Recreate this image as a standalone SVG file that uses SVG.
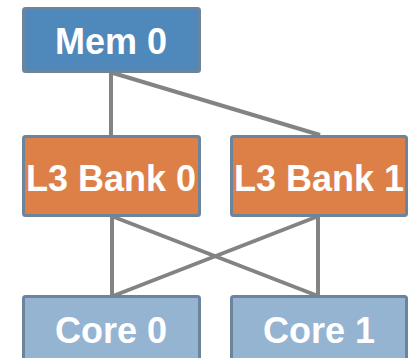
<svg xmlns="http://www.w3.org/2000/svg" width="409" height="358" viewBox="0 0 409 358">
  <style>
    .box { stroke: #6b869c; stroke-width: 3; }
    .mem { fill: #4f88bb; }
    .l3 { fill: #dd8048; }
    .core { fill: #95b4d1; }
    .label { font-family: "Liberation Sans", Arial, sans-serif; font-weight: bold; font-size: 36px; fill: #ffffff; text-anchor: middle; }
    .link { stroke: #838383; stroke-width: 4; fill: none; }
  </style>
  <g id="connectors">
    <line class="link" x1="111" y1="73" x2="111" y2="135"/>
    <line class="link" x1="113" y1="73" x2="320" y2="135"/>
    <line class="link" x1="112" y1="217" x2="112" y2="296"/>
    <line class="link" x1="114" y1="217" x2="318" y2="296"/>
    <line class="link" x1="318" y1="217" x2="318" y2="296"/>
    <line class="link" x1="316" y1="217" x2="113" y2="296"/>
  </g>
  <g id="mem0">
    <rect class="box mem" x="23.5" y="8.5" width="176" height="63" rx="2"/>
    <text class="label" x="111" y="54">Mem 0</text>
  </g>
  <g id="l3bank0">
    <rect class="box l3" x="23.5" y="136.5" width="176" height="79" rx="2"/>
    <text class="label" x="111" y="191">L3 Bank 0</text>
  </g>
  <g id="l3bank1">
    <rect class="box l3" x="231.5" y="136.5" width="175" height="79" rx="2"/>
    <text class="label" x="319" y="191">L3 Bank 1</text>
  </g>
  <g id="core0">
    <rect class="box core" x="23.5" y="296.5" width="176" height="70" rx="2"/>
    <text class="label" x="111" y="343">Core 0</text>
  </g>
  <g id="core1">
    <rect class="box core" x="231.5" y="296.5" width="175" height="70" rx="2"/>
    <text class="label" x="319" y="343">Core 1</text>
  </g>
</svg>
